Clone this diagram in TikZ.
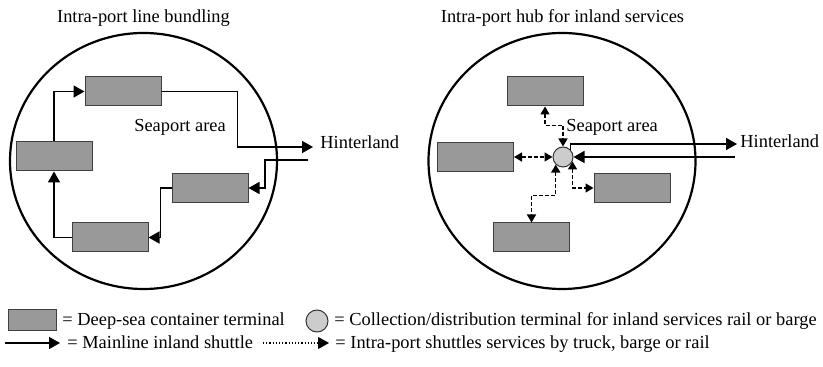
\documentclass[tikz,border=0pt]{standalone}
\usepackage{fontspec}
\setmainfont{Liberation Serif}
\usetikzlibrary{arrows.meta,shapes.geometric,positioning}

\begin{document}
\begin{tikzpicture}[x=0.5pt,y=-0.5pt,>={Triangle[length=5.5pt,width=6pt]},
  font=\fontsize{9.2}{11}\selectfont,
  term/.style={draw=black!75,fill=black!40,line width=0.5pt,minimum width=38pt,minimum height=14.5pt,inner sep=0pt},
  hub/.style={circle,draw=black!80,fill=black!20,line width=0.5pt,minimum size=10pt,inner sep=0pt},
  port/.style={ellipse,draw,line width=1.1pt,minimum width=133.5pt,minimum height=128pt,inner sep=0pt},
  main/.style={line width=0.8pt},
  feeder/.style={line width=0.75pt,dash pattern=on 2pt off 1pt,<->,>={Triangle[length=4pt,width=4.5pt]}},
  lbl/.style={inner sep=0pt,anchor=base west}]

\useasboundingbox (0,0) rectangle (823,367);

\node[port]   (portL) at (143.5,161) {};
\node[port]   (portR) at (562,161)   {};
\node[anchor=base] (titleL) at (143.5,23) {Intra-port line bundling};
\node[anchor=base] (titleR) at (562.5,23) {Intra-port hub for inland services};

\node[term]   (L1) at (123,91.5)  {};
\node[term]   (L2) at (54,156.5)  {};
\node[term]   (L3) at (210,188)   {};
\node[term]   (L4) at (110,237.5) {};
\node[inner sep=0pt] (seaL) at (180,127) {Seaport area};
\coordinate (outL) at (313,147);
\coordinate (inL)  at (308,160);
\node[lbl]    (hinL) at (320,149) {Hinterland};

\draw[main,->] (L1.east) -- ++(76,0) |- (outL);
\draw[main,->] (inL) -- ++(-43,0) |- (L3.east);
\draw[main,->] (L3.west) -- ++(-11,0) |- (L4.east);
\draw[main,->] (L4.west) -| (L2.south);
\draw[main,->] (L2.north) |- (L1.west);

\node[term]   (R1) at (545,91.5)  {};
\node[term]   (R2) at (475.5,157) {};
\node[term]   (R3) at (632,188)   {};
\node[term]   (R4) at (531.5,237.5) {};
\node[hub]    (hub) at (563,157)  {};
\node[anchor=west,inner sep=0pt] (seaR) at (566,127) {Seaport area};
\coordinate (outR) at (737,144);
\coordinate (inR)  at (735,157);
\node[lbl]    (hinR) at (740,148) {Hinterland};

\draw[main,->] (hub.45) |- (outR);
\draw[main,->] (inR) -- (hub.east);
\draw[feeder] (R1.south) -- ++(0,19) -| (hub.north);
\draw[feeder] (R2.east) -- (hub.west);
\draw[feeder] (hub.-25) |- (R3.west);
\draw[feeder] (hub.-134) -- ++(0,31) -| (R4.north);

\node[term,minimum width=24pt,minimum height=10.5pt] (keyT) at (32,320.5) {};
\node[lbl]    (keyTtxt) at (62,326) {= Deep-sea container terminal};
\node[hub,minimum size=11pt] (keyH) at (317,321) {};
\node[lbl]    (keyHtxt) at (334,326) {= Collection/distribution terminal for inland services rail or barge};
\coordinate (keyMa) at (5,343);
\coordinate (keyMb) at (60,343);
\draw[main,->] (keyMa) -- (keyMb);
\node[lbl]    (keyMtxt) at (67,349) {= Mainline inland shuttle};
\coordinate (keyFa) at (263,343);
\coordinate (keyFb) at (329,343);
\draw[line width=0.6pt,densely dotted,->] (keyFa) -- (keyFb);
\node[lbl]    (keyFtxt) at (335,349) {= Intra-port shuttles services by truck, barge or rail};

\end{tikzpicture}
\end{document}
